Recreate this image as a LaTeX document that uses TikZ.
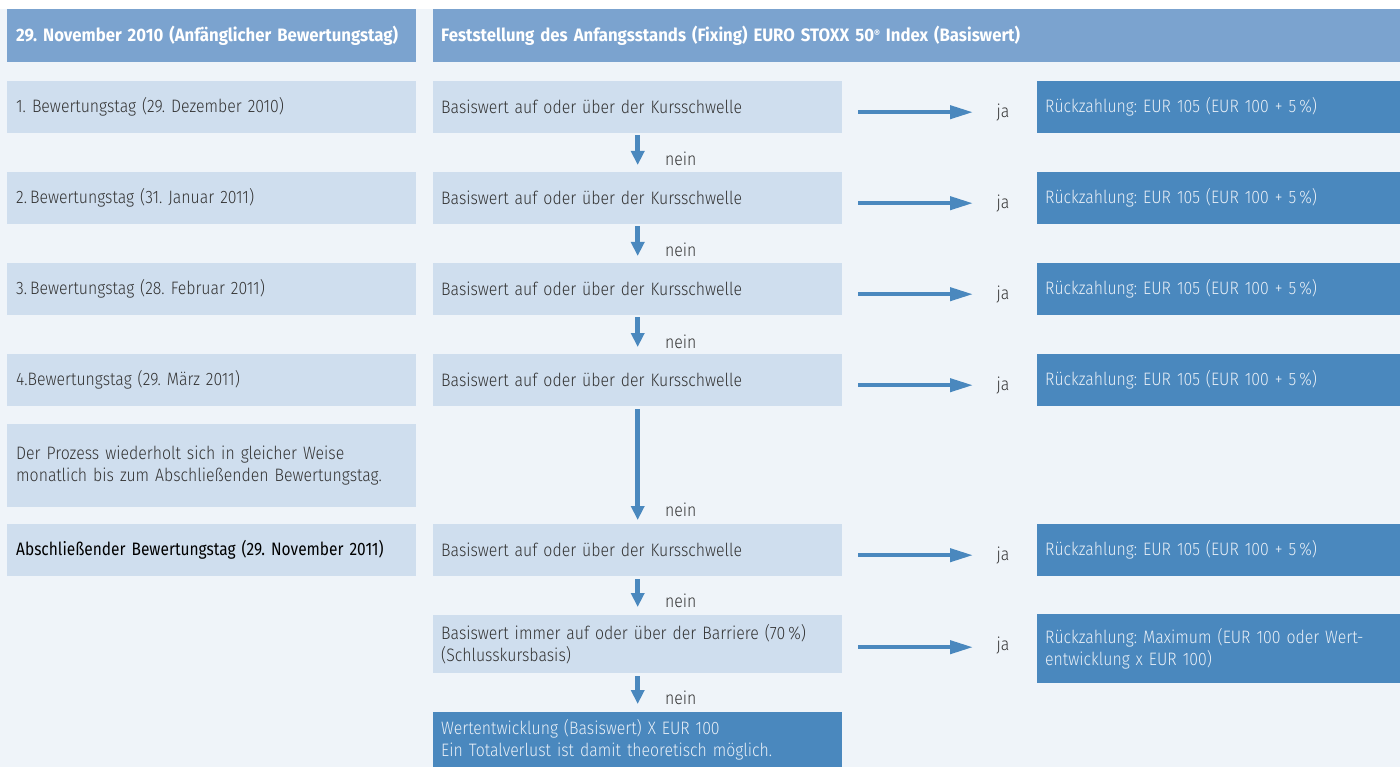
\documentclass[tikz,border=0pt]{standalone}
\usepackage{fontspec}
\IfFontExistsTF{Fira Sans Light}
  {\setmainfont{Fira Sans Light}[FakeStretch=0.88]}
  {\setmainfont{Fira Sans}[FakeStretch=0.86]}
\newfontfamily\hdrfont{Fira Sans}[FakeStretch=0.93]
\newfontfamily\regfont{Fira Sans}[FakeStretch=0.86]
\usetikzlibrary{arrows.meta}
\definecolor{bg}{HTML}{EFF4F9}
\definecolor{hdr}{HTML}{7BA3CF}
\definecolor{cell}{HTML}{CFDEEE}
\definecolor{dark}{HTML}{4A88BE}
\definecolor{txt}{HTML}{333333}
\definecolor{ltxt}{HTML}{E8EFF7}
\tikzset{
  base/.style={anchor=north west, inner ysep=0pt, align=left, font=\fontsize{18}{22}\selectfont\frenchspacing},
  hdrbox/.style={base, fill=hdr, text=white, inner xsep=9pt, font=\fontsize{18}{22}\selectfont\hdrfont\bfseries\frenchspacing},
  leftbox/.style={base, fill=cell, text=txt, inner xsep=9pt, text width=391pt},
  midbox/.style={base, fill=cell, text=txt, inner xsep=8pt, text width=393pt},
  resbox/.style={base, fill=dark, text=ltxt, inner xsep=8pt, text width=347pt},
  lossbox/.style={base, fill=dark, text=ltxt, inner xsep=8pt, text width=393pt},
  lbl/.style={text=txt, font=\fontsize{18}{22}\selectfont, anchor=base, inner sep=0pt},
  harrow/.style={draw=dark, line width=4pt, -{Triangle[length=23pt,width=13pt]}},
  varrow/.style={draw=dark, line width=4.5pt, -{Triangle[length=14pt,width=13pt]}},
}
\begin{document}
\begin{tikzpicture}[x=1pt,y=-1pt]
\useasboundingbox (0,0) rectangle (1400,767);
\fill[white] (0,0) rectangle (1400,767);
\fill[bg] (0,9) rectangle (1400,767);

% headers
\node[hdrbox, minimum height=53pt, text width=391pt] (h1) at (7,9) {29. November 2010 (Anfänglicher Bewertungstag)};
\node[hdrbox, minimum height=53pt, inner xsep=8pt, text width=951pt] (h2) at (433,9) {Feststellung des Anfangsstands (Fixing) EURO STOXX 50\raisebox{0.45ex}{\fontsize{10}{10}\selectfont ®} Index (Basiswert)};

% left column
\node[leftbox, minimum height=52pt] (l1) at (7,81) {1. Bewertungstag (29. Dezember 2010)};
\node[leftbox, minimum height=52pt] (l2) at (7,172) {2.\,Bewertungstag (31. Januar 2011)};
\node[leftbox, minimum height=52pt] (l3) at (7,263) {3.\,Bewertungstag (28. Februar 2011)};
\node[leftbox, minimum height=52pt] (l4) at (7,354) {4.Bewertungstag (29. März 2011)};
\node[leftbox, minimum height=83pt] (lp) at (7,424) {Der Prozess wiederholt sich in gleicher Weise\\monatlich bis zum Abschließenden Bewertungstag.};
\node[leftbox, minimum height=52pt, text=black, font=\fontsize{18}{22}\selectfont\regfont\frenchspacing] (l5) at (7,524) {Abschließender Bewertungstag (29. November 2011)};

% middle column
\node[midbox, minimum height=52pt] (m1) at (433,81) {Basiswert auf oder über der Kursschwelle};
\node[midbox, minimum height=52pt] (m2) at (433,172) {Basiswert auf oder über der Kursschwelle};
\node[midbox, minimum height=52pt] (m3) at (433,263) {Basiswert auf oder über der Kursschwelle};
\node[midbox, minimum height=52pt] (m4) at (433,354) {Basiswert auf oder über der Kursschwelle};
\node[midbox, minimum height=52pt] (m5) at (433,524) {Basiswert auf oder über der Kursschwelle};
\node[midbox, minimum height=58pt] (m6) at (433,615) {Basiswert immer auf oder über der Barriere (70\,\%)\\(Schlusskursbasis)};
\node[lossbox, minimum height=55pt] (m7) at (433,712) {Wertentwicklung (Basiswert) X EUR 100\\Ein Totalverlust ist damit theoretisch möglich.};

% right column
\node[resbox, minimum height=52pt] (r1) at (1037,81) {Rückzahlung: EUR 105 (EUR 100 + 5\,\%)};
\node[resbox, minimum height=52pt] (r2) at (1037,172) {Rückzahlung: EUR 105 (EUR 100 + 5\,\%)};
\node[resbox, minimum height=52pt] (r3) at (1037,263) {Rückzahlung: EUR 105 (EUR 100 + 5\,\%)};
\node[resbox, minimum height=52pt] (r4) at (1037,354) {Rückzahlung: EUR 105 (EUR 100 + 5\,\%)};
\node[resbox, minimum height=52pt] (r5) at (1037,524) {Rückzahlung: EUR 105 (EUR 100 + 5\,\%)};
\node[resbox, minimum height=69pt] (r6) at (1037,614) {Rückzahlung: Maximum (EUR 100 oder Wert-\\entwicklung x EUR 100)};

% horizontal arrows and ja labels
\foreach \i in {1,...,5}{
  \draw[harrow, shorten <=16pt, shorten >=64pt] ([yshift=-5pt]m\i.east) -- ([yshift=-5pt]r\i.west);
  \node[lbl] (ja\i) at ([xshift=-34pt,yshift=-10pt]r\i.west) {ja};
}
\draw[harrow, shorten <=16pt, shorten >=64pt] ([yshift=-3pt]m6.east) -- ([yshift=-3pt]r6.west |- m6.east);
\node[lbl] (ja6) at ([xshift=-34pt,yshift=-6pt]r6.west |- m6.east) {ja};

% vertical arrows and nein labels
\draw[varrow, shorten <=2pt, shorten >=7pt] (m1.south) -- (m2.north);
\draw[varrow, shorten <=2pt, shorten >=7pt] (m2.south) -- (m3.north);
\draw[varrow, shorten <=2pt, shorten >=7pt] (m3.south) -- (m4.north);
\draw[varrow, shorten <=3pt, shorten >=4pt] (m4.south) -- (m5.north);
\draw[varrow, shorten <=3pt, shorten >=8pt] (m5.south) -- (m6.north);
\draw[varrow, shorten <=3pt, shorten >=8pt] (m6.south) -- (m7.north);
\node[lbl] (n1) at ([xshift=43pt,yshift=6pt]m2.north) {nein};
\node[lbl] (n2) at ([xshift=43pt,yshift=6pt]m3.north) {nein};
\node[lbl] (n3) at ([xshift=43pt,yshift=6pt]m4.north) {nein};
\node[lbl] (n4) at ([xshift=43pt,yshift=8pt]m5.north) {nein};
\node[lbl] (n5) at ([xshift=43pt,yshift=8pt]m6.north) {nein};
\node[lbl] (n6) at ([xshift=43pt,yshift=8pt]m7.north) {nein};
\end{tikzpicture}
\end{document}
